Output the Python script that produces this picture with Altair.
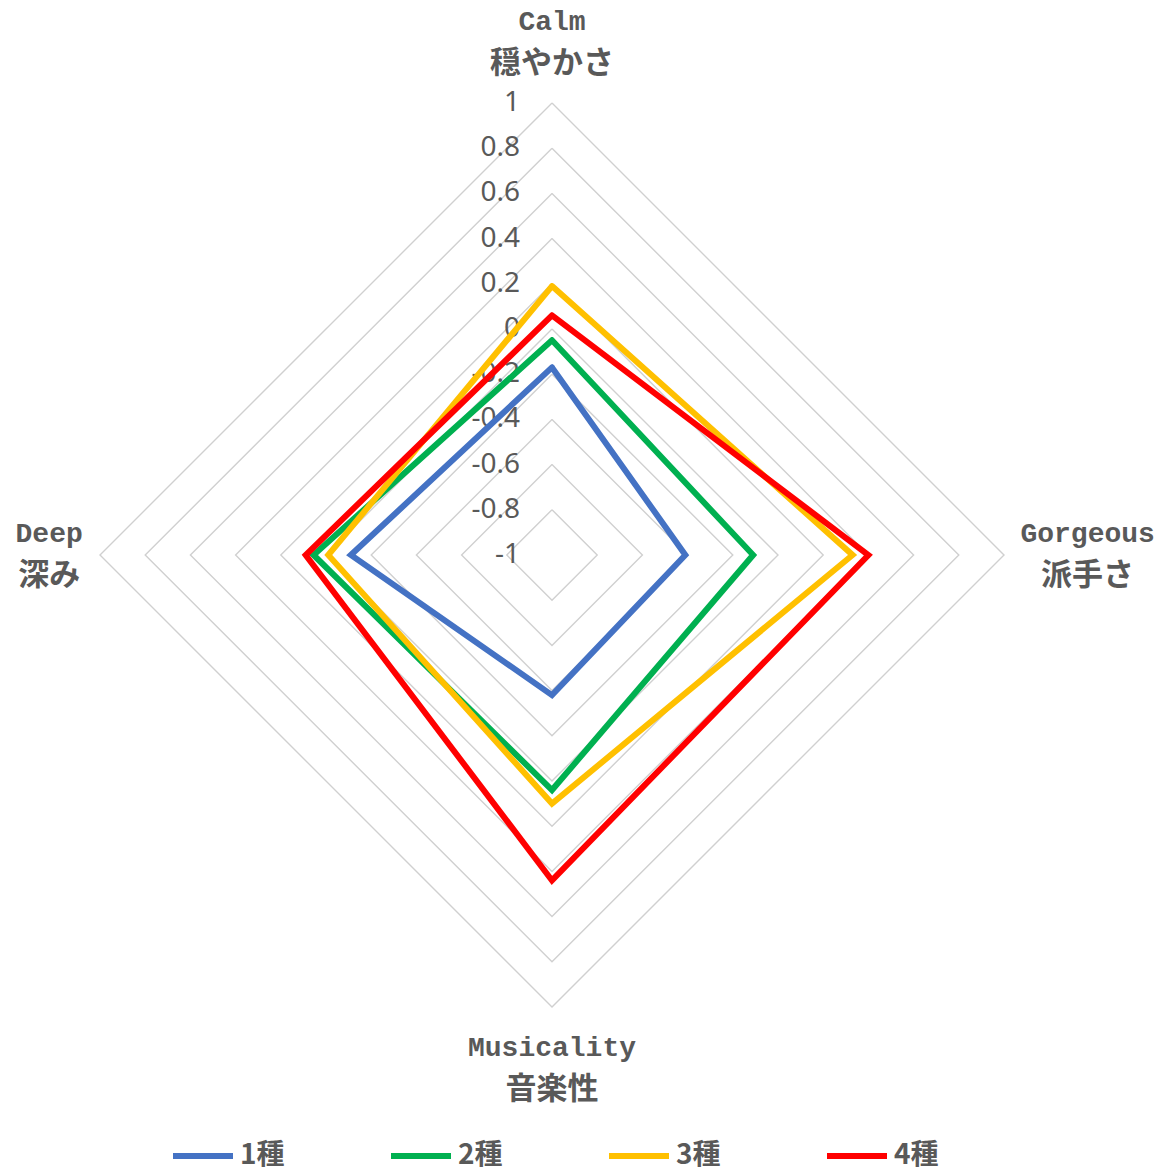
import math
import altair as alt
import pandas as pd

# ---- data ----
axes_en = ["Calm", "Gorgeous", "Musicality", "Deep"]
axes_ja = ["穏やかさ", "派手さ", "音楽性", "深み"]
series = ["1種", "2種", "3種", "4種"]
values_1 = [-0.17, -0.41, -0.38, -0.11]
values_2 = [-0.05, -0.11, 0.04, 0.055]
values_3 = [0.19, 0.33, 0.10, -0.01]
values_4 = [0.06, 0.40, 0.44, 0.09]
tick_values = [-1, -0.8, -0.6, -0.4, -0.2, 0, 0.2, 0.4, 0.6, 0.8, 1]
tick_labels = ["-1", "-0.8", "-0.6", "-0.4", "-0.2", "0", "0.2", "0.4", "0.6", "0.8", "1"]
colors = ["#4472C4", "#00B050", "#FFC000", "#FF0000"]

MINV = -1.0  # value at the centre
n = len(axes_en)
angles = [2 * math.pi * i / n for i in range(n)]


def pos(v, a):
    r = v - MINV
    return r * math.sin(a), r * math.cos(a)


# series rows (closed loops)
rows = []
for s, vals in zip(series, [values_1, values_2, values_3, values_4]):
    for k in range(n + 1):
        i = k % n
        x, y = pos(vals[i], angles[i])
        rows.append({"series": s, "order": k, "x": x, "y": y, "axis": axes_en[i], "value": vals[i]})
df_series = pd.DataFrame(rows)

# grid rows
grid_rows = []
for v in tick_values[1:]:
    for k in range(n + 1):
        i = k % n
        x, y = pos(v, angles[i])
        grid_rows.append({"level": v, "order": k, "x": x, "y": y})
df_grid = pd.DataFrame(grid_rows)

# tick label rows
df_ticks = pd.DataFrame({"x": [0.0] * len(tick_values),
                         "y": [v - MINV for v in tick_values],
                         "label": tick_labels})

# category label rows (layout radius per axis, in value units from centre)
label_r = [2.265, 2.37, 2.275, 2.225]
lab_rows = []
for i in range(n):
    r = label_r[i]
    lab_rows.append({"x": r * math.sin(angles[i]), "y": r * math.cos(angles[i]),
                     "en": axes_en[i], "ja": axes_ja[i]})
df_labels = pd.DataFrame(lab_rows)

dom = [-2, 2]
xs = alt.Scale(domain=dom, nice=False, zero=False)
ys = alt.Scale(domain=dom, nice=False, zero=False)
X = alt.X("x:Q", scale=xs, axis=None)
Y = alt.Y("y:Q", scale=ys, axis=None)

grid = alt.Chart(df_grid).mark_line(color="#D0D0D0", strokeWidth=1.4).encode(
    x=X, y=Y, detail="level:N", order="order:Q")

lines = alt.Chart(df_series).mark_line(strokeWidth=6, strokeJoin="miter", strokeCap="round").encode(
    x=X, y=Y,
    color=alt.Color("series:N",
                    scale=alt.Scale(domain=series, range=colors),
                    sort=series,
                    legend=alt.Legend(title=None, orient="none", direction="horizontal",
                                      legendX=70, legendY=1020,
                                      symbolType="stroke", symbolSize=3600, symbolStrokeWidth=6,
                                      labelFont="Noto Sans CJK JP", labelFontSize=28,
                                      labelFontWeight="bold", labelColor="#595959",
                                      labelOffset=4, columnPadding=94, columns=4)),
    detail="series:N", order="order:Q")

ticks = alt.Chart(df_ticks).mark_text(align="right", baseline="middle", dx=-32,
                                      font="Noto Sans", fontSize=28, color="#595959").encode(
    x=X, y=Y, text="label:N")

lab_en = alt.Chart(df_labels).mark_text(align="center", baseline="middle", dy=-21,
                                        font="Liberation Mono", fontSize=28, fontWeight="bold",
                                        color="#595959").encode(x=X, y=Y, text="en:N")
lab_ja = alt.Chart(df_labels).mark_text(align="center", baseline="middle", dy=21,
                                        font="Noto Sans CJK JP", fontSize=31, fontWeight="bold",
                                        color="#595959").encode(x=X, y=Y, text="ja:N")

chart = alt.layer(grid, ticks, lines, lab_en, lab_ja).properties(
    width=904, height=904,
    autosize=alt.AutoSizeParams(type="none"),
    padding={"left": 100, "top": 103, "right": 154, "bottom": 167},
    background="white",
).configure_view(stroke=None)

chart.save("out.html", embed_options={"renderer": "svg", "actions": False})
